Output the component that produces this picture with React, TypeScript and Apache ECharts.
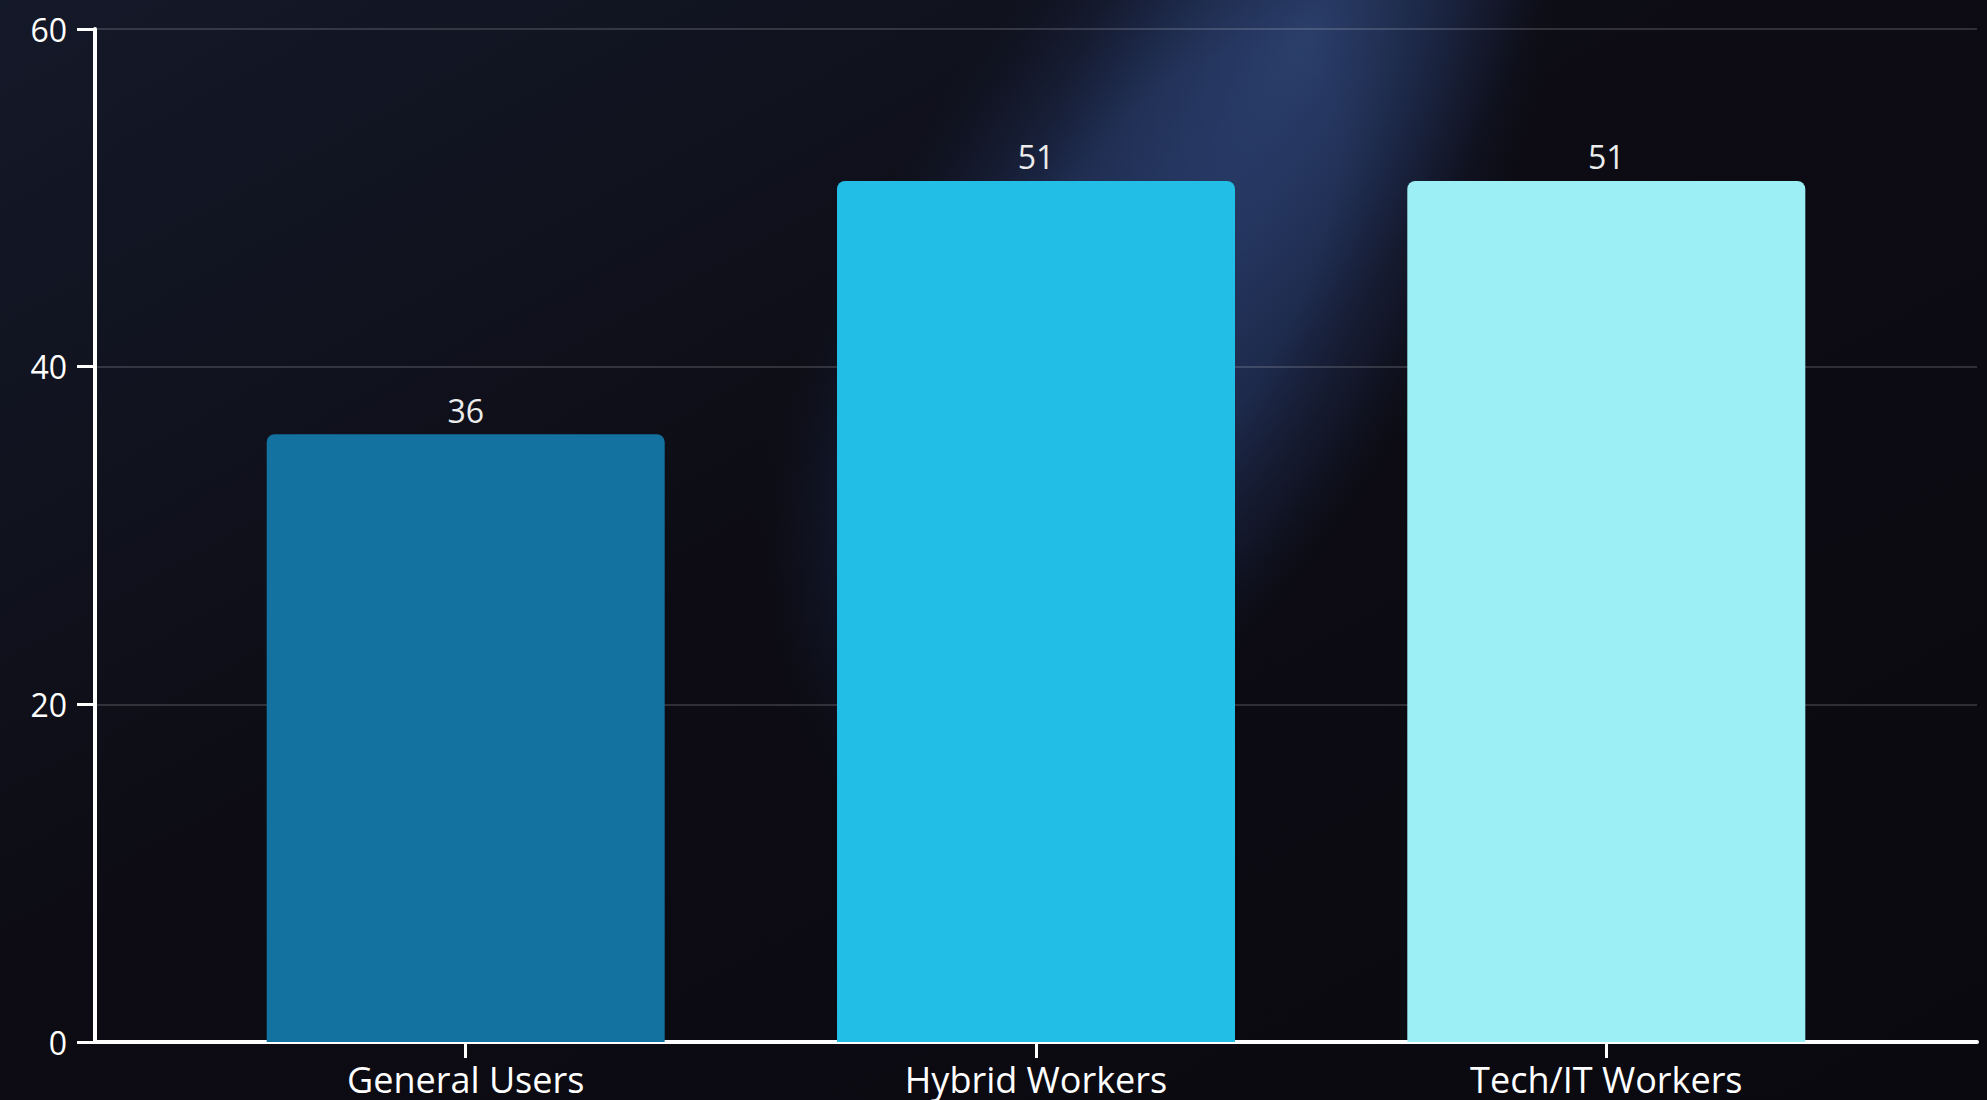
import React, { useEffect, useRef } from "react";
import * as echarts from "echarts";

const categories = ["General Users", "Hybrid Workers", "Tech/IT Workers"];
const values = [36, 51, 51];
const barColors = ["#13729f", "#22bee6", "#9ceff5"];
const categoryPositions = [0, 1, 2];

const FONT = "'Open Sans', 'Noto Sans', 'DejaVu Sans', sans-serif";

export default function App() {
  const ref = useRef<HTMLDivElement>(null);

  useEffect(() => {
    document.body.style.margin = "0";
    const chart = echarts.init(ref.current!, null, { renderer: "svg" });
    const deg = Math.PI / 180;
    chart.setOption({
      animation: false,
      backgroundColor: {
        type: "linear",
        x: 0,
        y: 0,
        x2: 1,
        y2: 1,
        colorStops: [
          { offset: 0, color: "#141929" },
          { offset: 0.45, color: "#0d0c14" },
          { offset: 1, color: "#0a090f" },
        ],
      },
      graphic: [
        {
          type: "ellipse",
          z: -11,
          silent: true,
          x: 990,
          y: 440,
          rotation: 62 * deg,
          shape: { cx: 0, cy: 0, rx: 320, ry: 210 },
          style: {
            fill: {
              type: "radial",
              x: 0.5,
              y: 0.5,
              r: 0.5,
              colorStops: [
                { offset: 0, color: "rgba(38,56,100,0.35)" },
                { offset: 0.6, color: "rgba(30,44,84,0.15)" },
                { offset: 1, color: "rgba(20,30,60,0)" },
              ],
            },
          },
        },
        {
          type: "ellipse",
          z: -10,
          silent: true,
          x: 1160,
          y: 290,
          rotation: 60 * deg,
          shape: { cx: 0, cy: 0, rx: 610, ry: 290 },
          style: {
            fill: {
              type: "radial",
              x: 0.5,
              y: 0.5,
              r: 0.5,
              colorStops: [
                { offset: 0, color: "rgba(44,68,120,0.72)" },
                { offset: 0.45, color: "rgba(42,64,116,0.58)" },
                { offset: 0.75, color: "rgba(34,52,98,0.26)" },
                { offset: 1, color: "rgba(20,30,60,0)" },
              ],
            },
          },
        },
        {
          type: "ellipse",
          z: -9,
          silent: true,
          x: 1310,
          y: 30,
          rotation: 60 * deg,
          shape: { cx: 0, cy: 0, rx: 420, ry: 200 },
          style: {
            fill: {
              type: "radial",
              x: 0.5,
              y: 0.5,
              r: 0.5,
              colorStops: [
                { offset: 0, color: "rgba(58,88,145,0.45)" },
                { offset: 0.6, color: "rgba(48,74,128,0.2)" },
                { offset: 1, color: "rgba(40,60,110,0)" },
              ],
            },
          },
        },
      ],
      grid: { left: 95, right: 10, top: 29, bottom: 58, containLabel: false },
      xAxis: {
        type: "value",
        min: -0.65,
        max: 2.65,
        axisLine: { show: true, onZero: false, lineStyle: { color: "#ffffff", width: 4 } },
        axisTick: {
          show: true,
          customValues: categoryPositions,
          length: 16,
          inside: false,
          lineStyle: { color: "#ffffff", width: 3 },
        },
        axisLabel: {
          customValues: categoryPositions,
          formatter: (v: number) => categories[Math.round(v)] ?? "",
          color: "#ffffff",
          fontSize: 36,
          fontFamily: FONT,
          margin: 19,
        },
        splitLine: { show: false },
      },
      yAxis: {
        type: "value",
        min: 0,
        max: 60,
        interval: 20,
        axisLine: { show: true, onZero: false, lineStyle: { color: "#ffffff", width: 4 } },
        axisTick: { show: true, length: 18, lineStyle: { color: "#ffffff", width: 3 } },
        axisLabel: {
          color: "#ffffff",
          fontSize: 32,
          fontFamily: FONT,
          margin: 28,
        },
        splitLine: { show: true, lineStyle: { color: "rgba(255,255,255,0.2)", width: 1.5 } },
      },
      series: [
        {
          type: "bar",
          barWidth: 398,
          data: values.map((v, i) => ({
            value: [categoryPositions[i], v],
            itemStyle: { color: barColors[i] },
          })),
          itemStyle: { borderRadius: [8, 8, 0, 0] },
          label: {
            show: true,
            position: "top",
            distance: 8,
            color: "#ececec",
            fontSize: 32,
            fontFamily: FONT,
            formatter: (p: any) => String(p.value[1]),
          },
        },
      ],
    });
    return () => chart.dispose();
  }, []);

  return (
    <div
      ref={ref}
      style={{ position: "fixed", left: 0, top: 0, width: 1987, height: 1100 }}
    />
  );
}
